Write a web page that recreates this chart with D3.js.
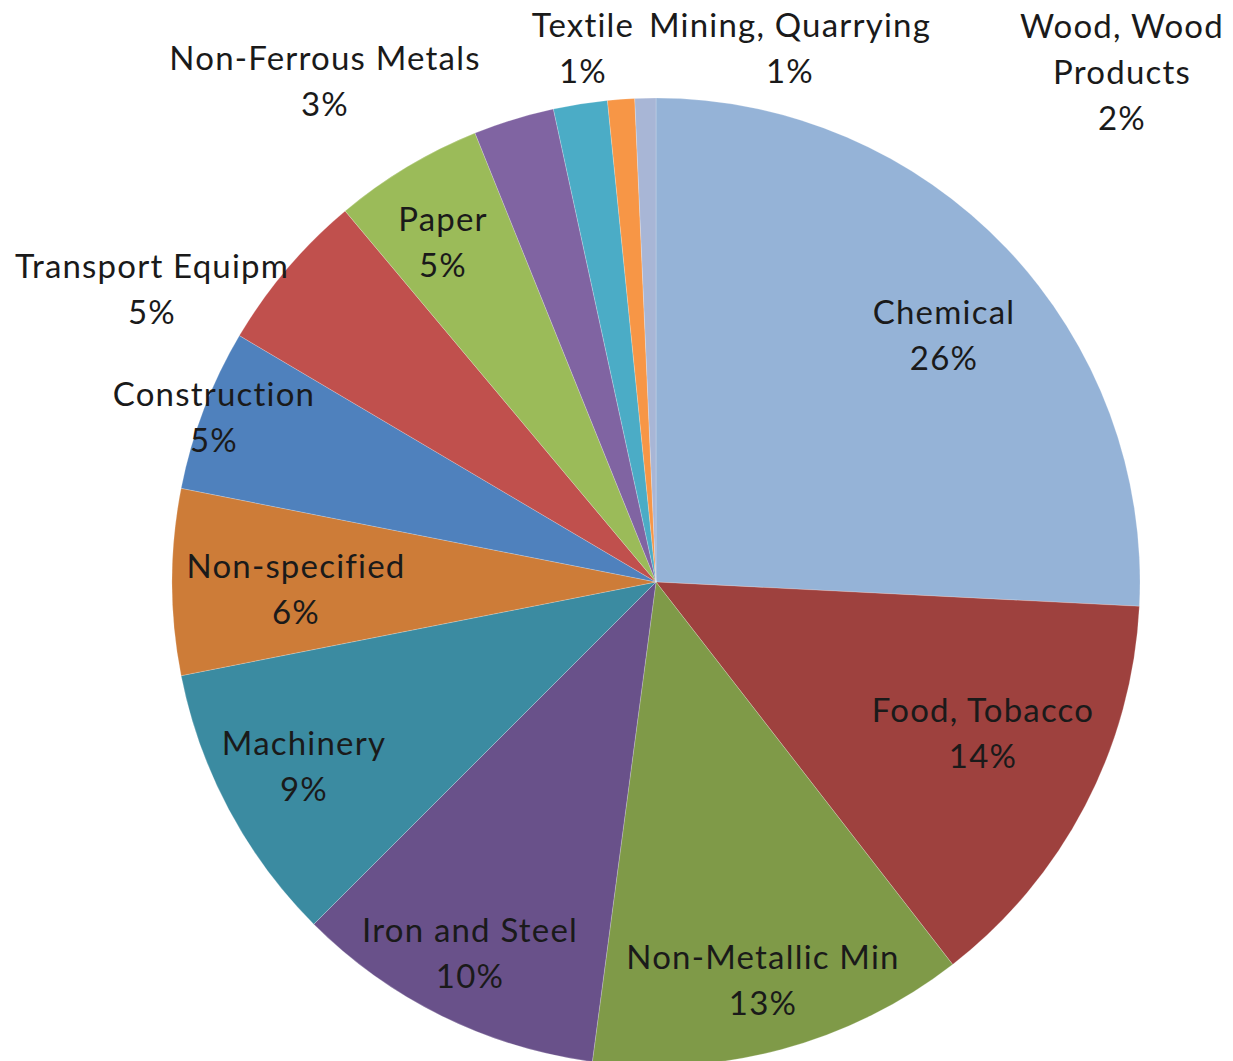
<!DOCTYPE html>
<html>
<head>
<meta charset="utf-8">
<script src="https://cdn.jsdelivr.net/npm/d3@7/dist/d3.min.js"></script>
<style>
  html, body { margin: 0; padding: 0; background: #fff; }
  svg { display: block; }
  text { font-family: Lato, "Open Sans", sans-serif; fill: #1a1a1a; letter-spacing: 1.2px; }
</style>
</head>
<body>
<svg id="chart" width="1233" height="1061"></svg>
<script>
// Industry sectors, in drawing order (clockwise from 12 o'clock)
const sectors = [
  "Chemical", "Food, Tobacco", "Non-Metallic Min", "Iron and Steel",
  "Machinery", "Non-specified", "Construction", "Transport Equipm",
  "Paper", "Non-Ferrous Metals", "Wood, Wood Products", "Textile",
  "Mining, Quarrying"
];
// Share of consumption per sector (%)
const shares = [25.8, 13.7, 12.6, 10.4, 9.4, 6.2, 5.4, 5.4, 5.0, 2.7, 1.8, 0.9, 0.7];
// Slice fills
const colors = [
  "#95b3d7", "#9e413e", "#7f9a48", "#69518a", "#3b8ba1", "#cd7c38",
  "#4f81bd", "#c0504d", "#9bbb59", "#8064a2", "#4bacc6", "#f79646", "#a8b6d6"
];
// Label lines (category name may wrap)
const labelLines = [
  ["Chemical"], ["Food, Tobacco"], ["Non-Metallic Min"], ["Iron and Steel"],
  ["Machinery"], ["Non-specified"], ["Construction"], ["Transport Equipm"],
  ["Paper"], ["Non-Ferrous Metals"], ["Wood, Wood", "Products"], ["Textile"],
  ["Mining, Quarrying"]
];

// Layout: label block top-line centres
const labelPos = [
  [944, 311], [983, 709], [763, 956], [470, 929], [304, 742], [296, 565],
  [214, 393], [152, 265], [443, 218], [325, 57], [1122, 25], [583, 24], [790, 24]
];

const cx = 656, cy = 582, radius = 484, lineGap = 46;

const svg = d3.select("#chart");
const data = sectors.map((s, i) => ({ name: s, value: shares[i], color: colors[i], lines: labelLines[i], pos: labelPos[i] }));

const pie = d3.pie().value(d => d.value).sort(null).startAngle(0).endAngle(2 * Math.PI);
const arc = d3.arc().innerRadius(0).outerRadius(radius);
const arcs = pie(data);
const total = d3.sum(shares);

const g = svg.append("g").attr("transform", `translate(${cx},${cy})`);
g.selectAll("path")
  .data(arcs)
  .join("path")
  .attr("d", arc)
  .attr("fill", d => d.data.color)
  .attr("stroke", "rgba(255,255,255,0.35)")
  .attr("stroke-width", 0.6);

const labels = svg.append("g").selectAll("text")
  .data(arcs)
  .join("text")
  .attr("text-anchor", "middle")
  .attr("font-size", 33);

labels.each(function(d) {
  const t = d3.select(this);
  const lines = d.data.lines.concat([Math.round(d.data.value / total * 100) + "%"]);
  lines.forEach((ln, k) => {
    t.append("tspan")
      .attr("x", d.data.pos[0])
      .attr("y", d.data.pos[1] + k * lineGap)
      .attr("dominant-baseline", "central")
      .text(ln);
  });
});
</script>
</body>
</html>
